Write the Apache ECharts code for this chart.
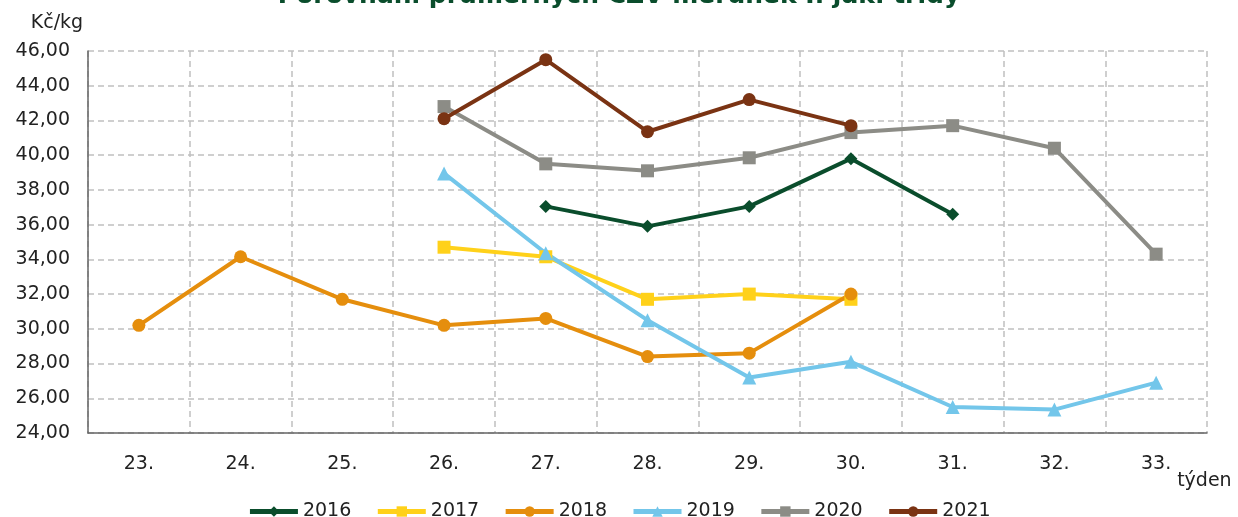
<!DOCTYPE html>
<html><head><meta charset="utf-8">
<script src="https://cdn.jsdelivr.net/npm/echarts@6/dist/echarts.min.js"></script>
<style>html,body{margin:0;padding:0;background:#fff}#c{width:1238px;height:517px}</style>
</head><body><div id="c"></div>
<script>
const weeks = ['23.','24.','25.','26.','27.','28.','29.','30.','31.','32.','33.'];
const s2016 = [null,null,null,null,37.05,35.9,37.05,39.8,36.6,null,null];
const s2017 = [null,null,null,34.7,34.15,31.7,32.0,31.7,null,null,null];
const s2018 = [30.2,34.15,31.7,30.2,30.6,28.4,28.6,32.0,null,null,null];
const s2019 = [null,null,null,38.95,34.35,30.5,27.2,28.1,25.5,25.35,26.9];
const s2020 = [null,null,null,42.8,39.5,39.1,39.85,41.3,41.7,40.4,34.3];
const s2021 = [null,null,null,42.1,45.5,41.35,43.2,41.7,null,null,null];
const names = ['2016','2017','2018','2019','2020','2021'];
const colors = ['#0a4d2c','#ffd11a','#e58e0d','#73c6ea','#8c8c86','#7a3313'];
const symbols = ['diamond','rect','circle','triangle','rect','circle'];
const sizes = [13,13,13,14,13,13];
const data = [s2016,s2017,s2018,s2019,s2020,s2021];
const font = 'DejaVu Sans';
const chart = echarts.init(document.getElementById('c'));
chart.setOption({
  animation:false,
  title:{text:'Porovnání průměrných CZV meruněk I. jak. třídy',left:'center',top:-21,
    textStyle:{fontFamily:font,fontWeight:'bold',fontSize:25,color:'#0a4d2c'}},
  grid:{left:88,right:31,top:51,bottom:84},
  legend:{bottom:-9,left:'center',itemWidth:48,itemHeight:13,itemGap:24,
    lineStyle:{width:5},
    textStyle:{fontFamily:font,fontSize:19,color:'#222'}},
  xAxis:{type:'category',data:weeks,boundaryGap:true,
    name:'týden',nameLocation:'end',nameGap:-32,
    nameTextStyle:{fontFamily:font,fontSize:19,color:'#222',align:'left',verticalAlign:'top',padding:[39,0,0,0]},
    axisLine:{lineStyle:{color:'#666',width:1.5}},axisTick:{show:false},
    axisLabel:{fontFamily:font,fontSize:19,color:'#222',margin:22},
    splitLine:{show:true,lineStyle:{color:'#c0c0c0',type:[6,4],width:1.5}}},
  yAxis:{type:'value',min:24,max:46,interval:2,
    name:'Kč/kg',nameLocation:'end',nameGap:18,
    nameTextStyle:{fontFamily:font,fontSize:19,color:'#222',padding:[0,0,0,-62]},
    axisLine:{show:true,lineStyle:{color:'#666',width:1.5}},axisTick:{show:false},
    axisLabel:{fontFamily:font,fontSize:19,color:'#222',margin:18,
      formatter:v=>v.toFixed(2).replace('.',',')},
    splitLine:{lineStyle:{color:'#c0c0c0',type:[6,4],width:1.5}}},
  series:names.map((n,i)=>({name:n,type:'line',data:data[i],connectNulls:false,
    symbol:symbols[i],symbolSize:sizes[i],showAllSymbol:true,
    lineStyle:{color:colors[i],width:4},
    itemStyle:{color:colors[i]}}))
});
</script></body></html>
